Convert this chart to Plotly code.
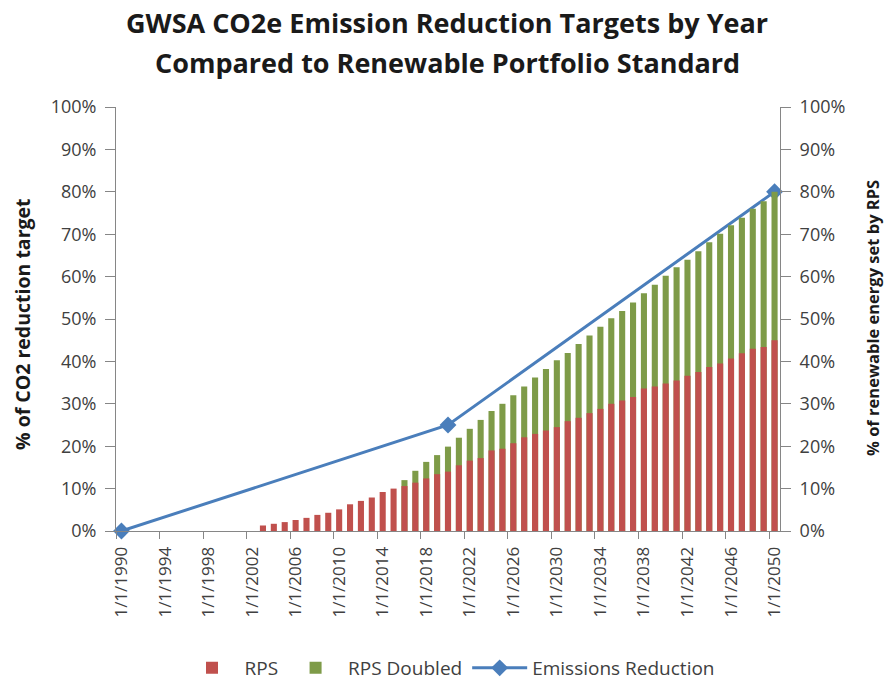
import plotly.graph_objects as go

# ---- data ----
years = list(range(1990, 2051))
rps_years = list(range(2003, 2051))
rps = [1.3, 1.7, 2.1, 2.6, 3.1, 3.8, 4.3, 5.1, 6.3, 7.1, 7.9, 9.2, 10.0,
       10.6, 11.4, 12.4, 13.4, 14.0, 15.5, 16.6, 17.2, 19.0, 19.4, 20.7,
       22.1, 22.9, 23.7, 24.5, 25.9, 26.7, 27.8, 28.8, 30.0, 30.8, 31.6,
       33.6, 34.1, 34.8, 35.5, 36.6, 37.5, 38.7, 39.5, 40.7, 41.9, 43.0,
       43.4, 45.0]
dbl_years = list(range(2016, 2051))
rps_doubled = [12.0, 14.2, 16.3, 17.9, 19.9, 22.0, 24.1, 26.2, 28.3, 30.0,
               32.0, 34.1, 36.2, 38.2, 40.3, 42.0, 44.1, 46.1, 48.2, 50.2,
               51.9, 53.9, 56.1, 58.1, 60.2, 62.2, 64.0, 66.0, 68.1, 70.1,
               72.1, 73.9, 76.0, 77.8, 80.0]
em_years = [1990, 2020, 2050]
emissions = [0, 25, 80]
tick_years = list(range(1990, 2051, 4))
tick_text = ["1/1/%d" % y for y in tick_years]
y_ticks = list(range(0, 101, 10))

FONT = "Open Sans"
TXT = "#404040"
AX = "#868686"

fig = go.Figure()
fig.add_trace(go.Bar(x=dbl_years, y=[v / 100 for v in rps_doubled], name="RPS Doubled",
                     marker=dict(color="#7E9B48", line_width=0), width=0.56,
                     yaxis="y2", legendrank=2))
fig.add_trace(go.Bar(x=rps_years, y=[v / 100 for v in rps], name="RPS",
                     marker=dict(color="#C0504D", line_width=0), width=0.56,
                     yaxis="y2", legendrank=1))
fig.add_trace(go.Scatter(x=em_years, y=[v / 100 for v in emissions], name="Emissions Reduction",
                         mode="lines+markers", line=dict(color="#4A7EBB", width=3),
                         marker=dict(symbol="diamond", size=13, color="#4A7EBB"),
                         legendrank=3, cliponaxis=False))

PX = lambda px: (px - 116) / 664
PY = lambda py: (531 - py) / 424

fig.update_layout(
    width=886, height=685,
    margin=dict(l=116, r=106, t=107, b=154, autoexpand=False),
    paper_bgcolor="white", plot_bgcolor="white",
    barmode="overlay",
    showlegend=True,
    font=dict(family=FONT, size=15, color=TXT),
    legend=dict(orientation="h", x=PX(450), xanchor="center", y=PY(668), yanchor="middle",
                font=dict(size=19, color=TXT), traceorder="normal", itemwidth=55),
    xaxis=dict(range=[1989.5, 2050.5], tickmode="array", tickvals=tick_years,
               ticktext=tick_text, tickangle=-90, ticks="", showgrid=False,
               showline=True, linecolor=AX, linewidth=1, zeroline=False,
               automargin=False, ticklabelstandoff=8,
               tickfont=dict(size=17, color=TXT),
               minor=dict(tickmode="array", tickvals=[y - 0.5 for y in tick_years],
                          ticks="outside", ticklen=7, tickcolor=AX, showgrid=False)),
    yaxis=dict(range=[0, 1], tickvals=[v / 100 for v in y_ticks],
               ticktext=["%d%%" % v for v in y_ticks], showgrid=False, zeroline=False,
               showline=True, linecolor=AX, ticks="outside", ticklen=10, tickcolor=AX,
               automargin=False, ticklabelstandoff=5,
               tickfont=dict(size=18, color=TXT)),
    yaxis2=dict(range=[0, 1], tickvals=[v / 100 for v in y_ticks],
                ticktext=["%d%%" % v for v in y_ticks], overlaying="y", side="right",
                showgrid=False, zeroline=False, showline=True, linecolor=AX,
                ticks="outside", ticklen=10, tickcolor=AX,
                automargin=False, ticklabelstandoff=5,
                tickfont=dict(size=18, color=TXT)),
)

# title lines
fig.add_annotation(text="<b>GWSA CO2e Emission Reduction Targets by Year</b>",
                   xref="paper", yref="paper", x=PX(447), y=PY(22),
                   showarrow=False, font=dict(size=27, color="#1a1a1a", family=FONT),
                   xanchor="center", yanchor="middle")
fig.add_annotation(text="<b>Compared to Renewable Portfolio Standard</b>",
                   xref="paper", yref="paper", x=PX(447), y=PY(62),
                   showarrow=False, font=dict(size=27, color="#1a1a1a", family=FONT),
                   xanchor="center", yanchor="middle")
# axis titles
fig.add_annotation(text="<b>% of CO2 reduction target</b>", textangle=-90,
                   xref="paper", yref="paper", x=PX(22), y=PY(324),
                   showarrow=False, font=dict(size=19.5, color="#1a1a1a", family=FONT),
                   xanchor="center", yanchor="middle")
fig.add_annotation(text="<b>% of renewable energy set by RPS</b>", textangle=-90,
                   xref="paper", yref="paper", x=PX(872), y=PY(318),
                   showarrow=False, font=dict(size=16.5, color="#1a1a1a", family=FONT),
                   xanchor="center", yanchor="middle")

fig.write_html("out.html")
